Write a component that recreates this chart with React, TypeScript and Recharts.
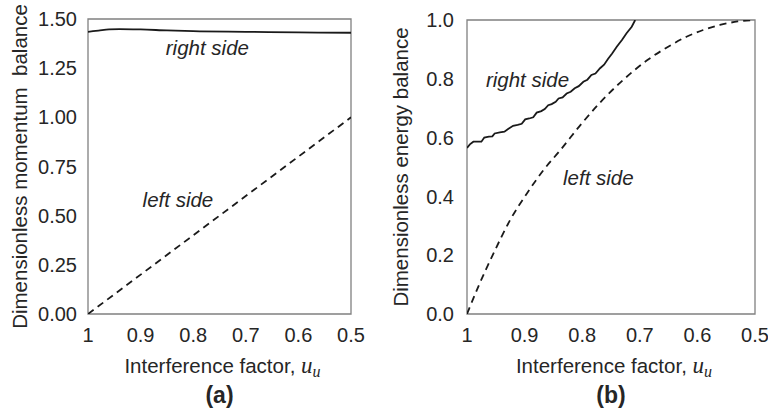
import React from 'react';
import { LineChart, Line, XAxis, YAxis, ReferenceArea, ReferenceDot } from 'recharts';

const uTicks = [1, 0.9, 0.8, 0.7, 0.6, 0.5];
const momentumTicks = [0, 0.25, 0.5, 0.75, 1, 1.25, 1.5];
const energyTicks = [0, 0.2, 0.4, 0.6, 0.8, 1];

const momentumRight = [
  { u: 1.0, v: 1.435 },
  { u: 0.98, v: 1.441 },
  { u: 0.96, v: 1.447 },
  { u: 0.94, v: 1.449 },
  { u: 0.9, v: 1.447 },
  { u: 0.85, v: 1.442 },
  { u: 0.8, v: 1.438 },
  { u: 0.7, v: 1.435 },
  { u: 0.6, v: 1.432 },
  { u: 0.5, v: 1.43 },
];
const momentumLeft = [
  { u: 1.0, v: 0 },
  { u: 0.5, v: 1.0 },
];

const energyRight = [
  { u: 1.0, v: 0.565 },
  { u: 0.995, v: 0.577 },
  { u: 0.989, v: 0.586 },
  { u: 0.975, v: 0.586 },
  { u: 0.97, v: 0.6 },
  { u: 0.962, v: 0.603 },
  { u: 0.956, v: 0.604 },
  { u: 0.952, v: 0.614 },
  { u: 0.943, v: 0.618 },
  { u: 0.935, v: 0.62 },
  { u: 0.928, v: 0.63 },
  { u: 0.92, v: 0.64 },
  { u: 0.912, v: 0.643 },
  { u: 0.905, v: 0.647 },
  { u: 0.899, v: 0.662 },
  { u: 0.892, v: 0.665 },
  { u: 0.885, v: 0.669 },
  { u: 0.879, v: 0.685 },
  { u: 0.871, v: 0.69 },
  { u: 0.865, v: 0.697 },
  { u: 0.859, v: 0.71 },
  { u: 0.853, v: 0.714 },
  { u: 0.846, v: 0.722 },
  { u: 0.841, v: 0.733 },
  { u: 0.834, v: 0.737 },
  { u: 0.827, v: 0.75 },
  { u: 0.82, v: 0.756 },
  { u: 0.813, v: 0.768 },
  { u: 0.806, v: 0.775 },
  { u: 0.798, v: 0.79 },
  { u: 0.791, v: 0.797 },
  { u: 0.784, v: 0.813 },
  { u: 0.777, v: 0.818 },
  { u: 0.769, v: 0.836 },
  { u: 0.762, v: 0.848 },
  { u: 0.755, v: 0.868 },
  { u: 0.748, v: 0.886 },
  { u: 0.74, v: 0.909 },
  { u: 0.731, v: 0.932 },
  { u: 0.723, v: 0.955 },
  { u: 0.714, v: 0.977 },
  { u: 0.708, v: 1.0 },
];

const energyLeft = [
  { u: 1.0, v: 0.0 },
  { u: 0.978, v: 0.104 },
  { u: 0.954, v: 0.206 },
  { u: 0.925, v: 0.32 },
  { u: 0.896, v: 0.41 },
  { u: 0.867, v: 0.49 },
  { u: 0.839, v: 0.555 },
  { u: 0.8, v: 0.65 },
  { u: 0.77, v: 0.717 },
  { u: 0.729, v: 0.796 },
  { u: 0.688, v: 0.862 },
  { u: 0.65, v: 0.91 },
  { u: 0.619, v: 0.943 },
  { u: 0.59, v: 0.966 },
  { u: 0.561, v: 0.983 },
  { u: 0.53, v: 0.995 },
  { u: 0.5, v: 1.0 },
];

const SANS = 'Liberation Sans, Arial, sans-serif';
const TEXT = '#262626';
const LINE = '#1a1a1a';
const BORDER = '#808080';

const fmtU = (v: number) => (v === 1 ? '1' : v.toFixed(1));

const makeXTitle = (caption: string) => (props: any) => {
  const vb = props.viewBox || {};
  const cx = vb.x + vb.width / 2 + 3;
  const y = vb.y;
  return (
    <g>
      <text x={cx} y={y + 59} textAnchor="middle" fontSize={20.5} fill={TEXT} fontFamily={SANS}>
        Interference factor,{' '}
        <tspan fontFamily="Liberation Serif, DejaVu Serif, serif" fontStyle="italic" fontSize={23}>u</tspan>
        <tspan fontFamily="Liberation Serif, DejaVu Serif, serif" fontStyle="italic" fontSize={16} dy={4}>u</tspan>
      </text>
      <text x={cx - 3} y={y + 89} textAnchor="middle" fontSize={23} fontWeight="bold" fill={TEXT} fontFamily={SANS}>
        {caption}
      </text>
    </g>
  );
};

const makeYTitle = (title: string, bx: number) => (props: any) => {
  const vb = props.viewBox || {};
  const cy = vb.y + vb.height / 2;
  return (
    <text
      transform={`translate(${vb.x + bx},${cy}) rotate(-90)`}
      textAnchor="middle"
      fontSize={20.5}
      fill={TEXT}
      fontFamily={SANS}
      style={{ whiteSpace: 'pre' }}
    >
      {title}
    </text>
  );
};

const noteShape = (label: string) => (p: any) => (
  <text
    x={p.cx}
    y={p.cy}
    dy="0.35em"
    textAnchor="middle"
    fontSize={20.5}
    fontStyle="italic"
    fill={TEXT}
    fontFamily={SANS}
  >
    {label}
  </text>
);

const tickStyle = { fontSize: 20, fill: TEXT, fontFamily: SANS };

export default function App() {
  return (
    <div style={{ position: 'absolute', left: 0, top: 0, width: 768, height: 418, background: '#fff' }}>
      <div style={{ position: 'absolute', left: 0, top: 0 }}>
        <LineChart width={384} height={418} margin={{ top: 19, right: 33, bottom: 0, left: 0 }}>
          <XAxis
            type="number"
            dataKey="u"
            domain={[0.5, 1]}
            reversed
            ticks={uTicks}
            interval={0}
            tickFormatter={fmtU}
            axisLine={false}
            tickLine={false}
            tickMargin={8}
            tick={tickStyle}
            height={104}
            allowDataOverflow
            label={{ content: makeXTitle('(a)') }}
          />
          <YAxis
            type="number"
            domain={[0, 1.5]}
            ticks={momentumTicks}
            interval={0}
            tickFormatter={(v: number) => v.toFixed(2)}
            axisLine={false}
            tickLine={false}
            tickMargin={5}
            tick={tickStyle}
            width={88}
            allowDataOverflow
            label={{ content: makeYTitle('Dimensionless momentum  balance', 27) }}
          />
          <ReferenceArea x1={1} x2={0.5} y1={0} y2={1.5} fill="none" fillOpacity={0} stroke={BORDER} strokeWidth={1.3} />
          <Line data={momentumRight} dataKey="v" type="monotone" stroke={LINE} strokeWidth={1.8} dot={false} isAnimationActive={false} />
          <Line data={momentumLeft} dataKey="v" type="linear" stroke={LINE} strokeWidth={1.8} strokeDasharray="7 5" dot={false} isAnimationActive={false} />
          <ReferenceDot x={0.773} y={1.354} r={0} shape={noteShape('right side')} />
          <ReferenceDot x={0.829} y={0.58} r={0} shape={noteShape('left side')} />
        </LineChart>
      </div>
      <div style={{ position: 'absolute', left: 384, top: 0 }}>
        <LineChart width={384} height={418} margin={{ top: 20, right: 13, bottom: 0, left: 0 }}>
          <XAxis
            type="number"
            dataKey="u"
            domain={[0.5, 1]}
            reversed
            ticks={uTicks}
            interval={0}
            tickFormatter={fmtU}
            axisLine={false}
            tickLine={false}
            tickMargin={8}
            tick={tickStyle}
            height={104}
            allowDataOverflow
            label={{ content: makeXTitle('(b)') }}
          />
          <YAxis
            type="number"
            domain={[0, 1]}
            ticks={energyTicks}
            interval={0}
            tickFormatter={(v: number) => v.toFixed(1)}
            axisLine={false}
            tickLine={false}
            tickMargin={7}
            tick={tickStyle}
            width={83}
            allowDataOverflow
            label={{ content: makeYTitle('Dimensionless energy balance', 24) }}
          />
          <ReferenceArea x1={1} x2={0.5} y1={0} y2={1} fill="none" fillOpacity={0} stroke={BORDER} strokeWidth={1.3} />
          <Line data={energyRight} dataKey="v" type="linear" stroke={LINE} strokeWidth={1.8} dot={false} isAnimationActive={false} />
          <Line data={energyLeft} dataKey="v" type="monotone" stroke={LINE} strokeWidth={1.8} strokeDasharray="7 5" dot={false} isAnimationActive={false} />
          <ReferenceDot x={0.895} y={0.796} r={0} shape={noteShape('right side')} />
          <ReferenceDot x={0.772} y={0.463} r={0} shape={noteShape('left side')} />
        </LineChart>
      </div>
    </div>
  );
}
